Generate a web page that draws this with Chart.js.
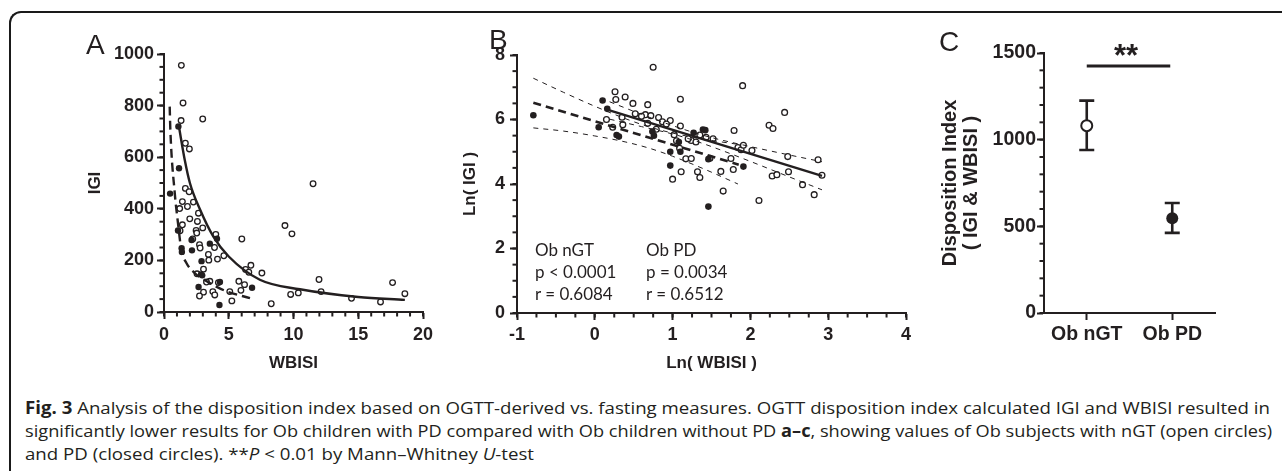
<!DOCTYPE html>
<html>
<head>
<meta charset="utf-8">
<script src="https://cdn.jsdelivr.net/npm/chart.js@4.4.1/dist/chart.umd.min.js"></script>
<style>
  body { margin: 0; width: 1282px; height: 471px; overflow: hidden; background: #fff; position: relative; color: #231f20; font-family: "Liberation Sans", Arial, sans-serif; }
  .frame { position: absolute; left: 9px; top: 11px; width: 1300px; height: 500px; border-top: 2px solid #1a1a1a; border-left: 2px solid #1a1a1a; border-top-left-radius: 12px; }
  canvas { position: absolute; top: 0; }
  .letter { position: absolute; font-size: 28px; line-height: 28px; }
  .stats { position: absolute; font-family: Lato, "Open Sans", sans-serif; font-size: 17px; line-height: 22px; white-space: nowrap; }
  .stars { position: absolute; font-weight: bold; font-size: 31px; line-height: 31px; }
  .cap { position: absolute; left: 25px; top: 396px; font-family: "Open Sans", sans-serif; font-size: 17px; line-height: 23px; color: #231f20; }
  .cap span { display: block; white-space: nowrap; transform-origin: 0 0; width: max-content; }
</style>
</head>
<body>
<div class="frame"></div>
<canvas id="chartA" width="440" height="380" style="left:0"></canvas>
<canvas id="chartB" width="490" height="380" style="left:440px"></canvas>
<canvas id="chartC" width="352" height="380" style="left:930px"></canvas>

<div class="letter" style="left:86px;top:31px">A</div>
<div class="letter" style="left:489px;top:26px">B</div>
<div class="letter" style="left:939px;top:28px">C</div>

<div class="stats" style="left:535px;top:239px">Ob nGT<br>p &lt; 0.0001<br>r = 0.6084</div>
<div class="stats" style="left:646px;top:239px">Ob PD<br>p = 0.0034<br>r = 0.6512</div>
<div class="stars" style="left:1114px;top:40px">**</div>

<div class="cap" id="caption">
  <span><b>Fig. 3</b> Analysis of the disposition index based on OGTT-derived vs. fasting measures. OGTT disposition index calculated IGI and WBISI resulted in</span>
  <span>significantly lower results for Ob children with PD compared with Ob children without PD <b>a–c</b>, showing values of Ob subjects with nGT (open circles)</span>
  <span>and PD (closed circles). **<i>P</i> &lt; 0.01 by Mann–Whitney <i>U</i>-test</span>
</div>

<script>
// ---- panel A: IGI vs WBISI ----
const aNgtX = [1.34, 1.47, 1.32, 2.99, 1.65, 1.96, 1.65, 1.94, 1.42, 1.21, 1.81, 2.27, 2.66, 1.99, 1.42, 2.58, 2.99, 2.48, 2.53, 4.0,
  1.24, 2.22, 2.74, 2.79, 3.9, 3.43, 4.62, 4.13, 3.46, 3.05, 2.55, 3.54, 3.28, 3.77, 3.05, 3.92, 2.74, 4.2, 5.08, 5.24,
  5.78, 5.94, 6.22, 6.3, 6.55, 6.71, 6.01, 7.56, 8.28, 9.34, 9.88, 9.78, 10.37, 11.51, 11.97, 12.13, 14.48, 16.72, 17.65, 18.6];
const aNgtY = [956, 810, 742, 748, 654, 632, 479, 466, 428, 401, 409, 426, 383, 361, 338, 351, 326, 316, 306, 301,
  315, 283, 261, 248, 250, 223, 218, 205, 201, 166, 148, 119, 116, 79, 77, 66, 62, 114, 79, 43,
  119, 84, 106, 165, 154, 181, 283, 151, 32, 335, 303, 68, 74, 497, 126, 79, 53, 39, 114, 71];
const aPdX = [1.11, 1.16, 0.47, 1.08, 1.36, 1.38, 2.13, 2.16, 2.9, 3.54, 4.09, 2.86, 2.95, 2.67, 4.32, 4.28, 6.8];
const aPdY = [719, 557, 459, 316, 247, 233, 279, 239, 197, 265, 284, 146, 142, 97, 116, 27, 94];
// fitted curves
const aFitNgtX = [1.15, 1.6, 2.0, 2.8, 3.8, 5.0, 7.4, 10.5, 15, 18.6];
const aFitNgtY = [720, 590, 500, 395, 293, 215, 125, 88, 58, 47];
const aFitPdX = [0.44, 0.49, 0.83, 1.08, 1.34, 1.73, 2.37, 3.54, 4.83, 6.64];
const aFitPdY = [796, 706, 461, 345, 241, 190, 151, 112, 80, 54];
const aXTicks = [0, 5, 10, 15, 20];
const aYTicks = [0, 200, 400, 600, 800, 1000];

// ---- panel B: Ln(IGI) vs Ln(WBISI) ----
const bNgtX = [0.75, 1.9, 0.26, 0.27, 0.39, 1.1, 0.49, 0.68, 0.52, 0.65, 0.35, 0.15, 0.36, 0.23, 0.82, 0.87, 0.97, 0.92, 1.1, 0.68,
  0.79, 1.02, 1.05, 1.09, 1.24, 1.35, 1.52, 1.17, 1.24, 1.11, 1.0, 1.32, 1.35, 1.62, 1.65, 1.75, 1.78, 1.79, 1.84, 1.88,
  1.91, 2.02, 2.11, 2.24, 2.29, 2.44, 2.28, 2.34, 2.48, 2.49, 2.67, 2.82, 2.87, 2.92, 1.48, 0.6, 0.72, 1.2, 1.3, 1.43];
const bNgtY = [7.62, 7.05, 6.86, 6.62, 6.7, 6.63, 6.5, 6.46, 6.18, 6.15, 6.07, 6.0, 5.84, 5.76, 6.06, 5.93, 5.97, 5.86, 5.8, 5.88,
  5.7, 5.53, 5.34, 5.11, 5.35, 5.52, 5.4, 4.78, 4.79, 4.38, 4.15, 4.38, 4.2, 4.39, 3.78, 4.79, 4.45, 5.66, 5.13, 5.06,
  5.2, 5.04, 3.49, 5.82, 5.72, 6.22, 4.25, 4.29, 4.85, 4.38, 3.98, 3.67, 4.75, 4.27, 4.8, 6.1, 6.12, 5.4, 5.3, 5.45];
const bPdX = [-0.79, 0.05, 0.1, 0.16, 0.28, 0.31, 0.74, 0.76, 0.97, 0.97, 1.08, 1.1, 1.27, 1.39, 1.42, 1.46, 1.46, 1.91];
const bPdY = [6.13, 5.76, 6.59, 6.33, 5.52, 5.47, 5.63, 5.5, 5.0, 4.57, 5.3, 5.0, 5.59, 5.69, 5.67, 4.77, 3.3, 4.54];
const bFitNgtX = [0.19, 2.92];
const bFitNgtY = [6.28, 4.25];
const bFitPdX = [-0.79, 1.85];
const bFitPdY = [6.52, 4.6];
const bBandNgtX = [0.19, 0.6, 1.0, 1.2, 1.5, 2.0, 2.5, 2.92];
const bBandNgtHi = [6.55, 6.16, 5.81, 5.65, 5.44, 5.16, 4.9, 4.69];
const bBandNgtLo = [6.01, 5.78, 5.55, 5.41, 5.16, 4.7, 4.22, 3.82];
const bBandPdX = [-0.79, -0.4, 0, 0.4, 0.7, 1.0, 1.4, 1.84];
const bBandPdHi = [7.28, 6.84, 6.41, 6.02, 5.77, 5.58, 5.39, 5.23];
const bBandPdLo = [5.74, 5.64, 5.49, 5.3, 5.11, 4.86, 4.47, 4.0];
const bXTicks = [-1, 0, 1, 2, 3, 4];
const bYTicks = [0, 2, 4, 6, 8];

// ---- panel C: disposition index ----
const cLabels = ['Ob nGT', 'Ob PD'];
const cMean = [1081, 546];
const cHi = [1225, 635];
const cLo = [940, 462];
const cSigLevel = 1425;
const cYTicks = [0, 500, 1000, 1500];

const INK = '#231f20';
const FONT = '"Liberation Sans", Arial, sans-serif';
const pts = (xs, ys) => xs.map((x, i) => ({ x, y: ys[i] }));

function linAxis(o) {
  return {
    type: 'linear', min: o.min, max: o.max,
    afterBuildTicks: s => { s.ticks = o.ticks.map(v => ({ value: v })); },
    afterFit: s => { if (o.w) s.width = o.w; if (o.h) s.height = o.h; },
    border: { color: INK, width: 2 },
    grid: { drawOnChartArea: false, tickLength: 7, tickWidth: 2, tickColor: INK },
    ticks: { color: INK, padding: o.pad, autoSkip: false, maxRotation: 0,
      font: { family: FONT, weight: 'bold', size: o.size }, callback: v => String(v) },
    title: o.title ? { display: true, text: o.title, color: INK, padding: o.tpad,
      font: { family: FONT, weight: 'bold', size: o.tsize || 17, lineHeight: o.lh || 1.2 } } : { display: false }
  };
}

// short unlabelled ticks between the labelled ones
const minorTicks = {
  id: 'minorTicks',
  afterDraw(chart, args, opts) {
    const ctx = chart.ctx;
    ctx.save();
    ctx.strokeStyle = INK;
    ctx.lineWidth = 2;
    ['x', 'y'].forEach(k => {
      if (!opts[k]) return;
      const s = chart.scales[k];
      const n = Math.round((s.max - s.min) / opts[k]);
      for (let i = 0; i <= n; i++) {
        const p = s.getPixelForValue(s.min + i * opts[k]);
        ctx.beginPath();
        if (k === 'x') { ctx.moveTo(p, s.top); ctx.lineTo(p, s.top + 4.5); }
        else { ctx.moveTo(s.right - 4.5, p); ctx.lineTo(s.right, p); }
        ctx.stroke();
      }
    });
    ctx.restore();
  }
};

const openPts = (data, r) => ({ data, showLine: false, pointRadius: r, pointBorderWidth: 1.3,
  pointBackgroundColor: '#fff', pointBorderColor: INK, clip: false });
const filledPts = (data, r) => ({ data, showLine: false, pointRadius: r, pointBorderWidth: 0,
  pointBackgroundColor: INK, pointBorderColor: INK, clip: false });
const line = (data, w, dash) => ({ data, showLine: true, pointRadius: 0, borderColor: INK, borderWidth: w,
  borderDash: dash || [], cubicInterpolationMode: 'monotone', fill: false, clip: false });

const baseOpts = { responsive: false, animation: false, events: [],
  plugins: { legend: { display: false }, tooltip: { enabled: false } } };

new Chart(document.getElementById('chartA'), {
  type: 'scatter',
  data: { datasets: [
    line(pts(aFitNgtX, aFitNgtY), 2.4),
    line(pts(aFitPdX, aFitPdY), 2.4, [9, 5]),
    filledPts(pts(aPdX, aPdY), 3.2),
    openPts(pts(aNgtX, aNgtY), 2.8)
  ] },
  options: Object.assign({}, baseOpts, {
    layout: { padding: { top: 54, right: 17, left: 0, bottom: 0 } },
    scales: {
      x: linAxis({ min: 0, max: 20, ticks: aXTicks, size: 18, pad: 5, h: 68, title: 'WBISI', tpad: { top: 0, bottom: 6 } }),
      y: linAxis({ min: 0, max: 1000, ticks: aYTicks, size: 18, pad: 3, w: 164, title: 'IGI', tpad: { top: 85, bottom: 0 } })
    },
    plugins: Object.assign({}, baseOpts.plugins, { minorTicks: { x: 1, y: 50 } })
  }),
  plugins: [minorTicks]
});

new Chart(document.getElementById('chartB'), {
  type: 'scatter',
  data: { datasets: [
    line(pts(bFitNgtX, bFitNgtY), 2.4),
    line(pts(bFitPdX, bFitPdY), 2.6, [8, 5]),
    line(pts(bBandNgtX, bBandNgtHi), 1, [5, 5]),
    line(pts(bBandNgtX, bBandNgtLo), 1, [5, 5]),
    line(pts(bBandPdX, bBandPdHi), 1, [5, 5]),
    line(pts(bBandPdX, bBandPdLo), 1, [5, 5]),
    filledPts(pts(bPdX, bPdY), 3.3),
    openPts(pts(bNgtX, bNgtY), 2.9)
  ] },
  options: Object.assign({}, baseOpts, {
    layout: { padding: { top: 55, right: 24, left: 0, bottom: 0 } },
    scales: {
      x: linAxis({ min: -1, max: 4, ticks: bXTicks, size: 18, pad: 4, h: 67, title: 'Ln( WBISI )', tpad: { top: 0, bottom: 6 } }),
      y: linAxis({ min: 0, max: 8, ticks: bYTicks, size: 18, pad: 5, w: 77, title: 'Ln( IGI )', tpad: { top: 20, bottom: 0 } })
    },
    plugins: Object.assign({}, baseOpts.plugins, { minorTicks: { x: 0.25, y: 0.5 } })
  }),
  plugins: [minorTicks]
});

// error bars and the significance bar for panel C
const cDecor = {
  id: 'cDecor',
  beforeDatasetsDraw(chart) {
    const { ctx, scales: { x, y } } = chart;
    ctx.save();
    ctx.strokeStyle = INK;
    ctx.lineWidth = 2.6;
    cLabels.forEach((lab, i) => {
      const px = x.getPixelForValue(i);
      const top = y.getPixelForValue(cHi[i]);
      const bot = y.getPixelForValue(cLo[i]);
      ctx.beginPath();
      ctx.moveTo(px, top); ctx.lineTo(px, bot);
      ctx.moveTo(px - 7.5, top); ctx.lineTo(px + 7.5, top);
      ctx.moveTo(px - 7.5, bot); ctx.lineTo(px + 7.5, bot);
      ctx.stroke();
    });
    const sy = y.getPixelForValue(cSigLevel);
    ctx.lineWidth = 3;
    ctx.beginPath();
    ctx.moveTo(x.getPixelForValue(0), sy);
    ctx.lineTo(x.getPixelForValue(1) - 2, sy);
    ctx.stroke();
    ctx.restore();
  }
};

const cAxisY = linAxis({ min: 0, max: 1500, ticks: cYTicks, size: 19.5, pad: 1, w: 114,
  title: ['Disposition Index', '( IGI & WBISI )'], tsize: 20, lh: 1.05, tpad: { top: 9.5, bottom: 0 } });

new Chart(document.getElementById('chartC'), {
  type: 'line',
  data: { labels: cLabels, datasets: [
    { data: [cMean[0], null], showLine: false, pointRadius: 5.5, pointBorderWidth: 2,
      pointBackgroundColor: '#fff', pointBorderColor: INK, clip: false },
    { data: [null, cMean[1]], showLine: false, pointRadius: 6, pointBorderWidth: 0,
      pointBackgroundColor: INK, pointBorderColor: INK, clip: false }
  ] },
  options: Object.assign({}, baseOpts, {
    layout: { padding: { top: 53, right: 67, left: 0, bottom: 0 } },
    scales: {
      x: { type: 'category', offset: true,
        afterFit: s => { s.height = 67; },
        border: { color: INK, width: 2 },
        grid: { drawOnChartArea: false, tickLength: 7, tickWidth: 2, tickColor: INK },
        ticks: { color: INK, padding: 3, maxRotation: 0, font: { family: FONT, weight: 'bold', size: 19.5 } } },
      y: cAxisY
    },
    plugins: Object.assign({}, baseOpts.plugins, { minorTicks: { y: 100 } })
  }),
  plugins: [minorTicks, cDecor]
});

// squeeze each caption line to the width it has in the printed figure
const capWidths = [1245, 1247, 509];
document.querySelectorAll('#caption span').forEach((el, i) => {
  const w = el.getBoundingClientRect().width;
  el.style.transform = 'scaleX(' + (capWidths[i] / w) + ')';
});
</script>
</body>
</html>
